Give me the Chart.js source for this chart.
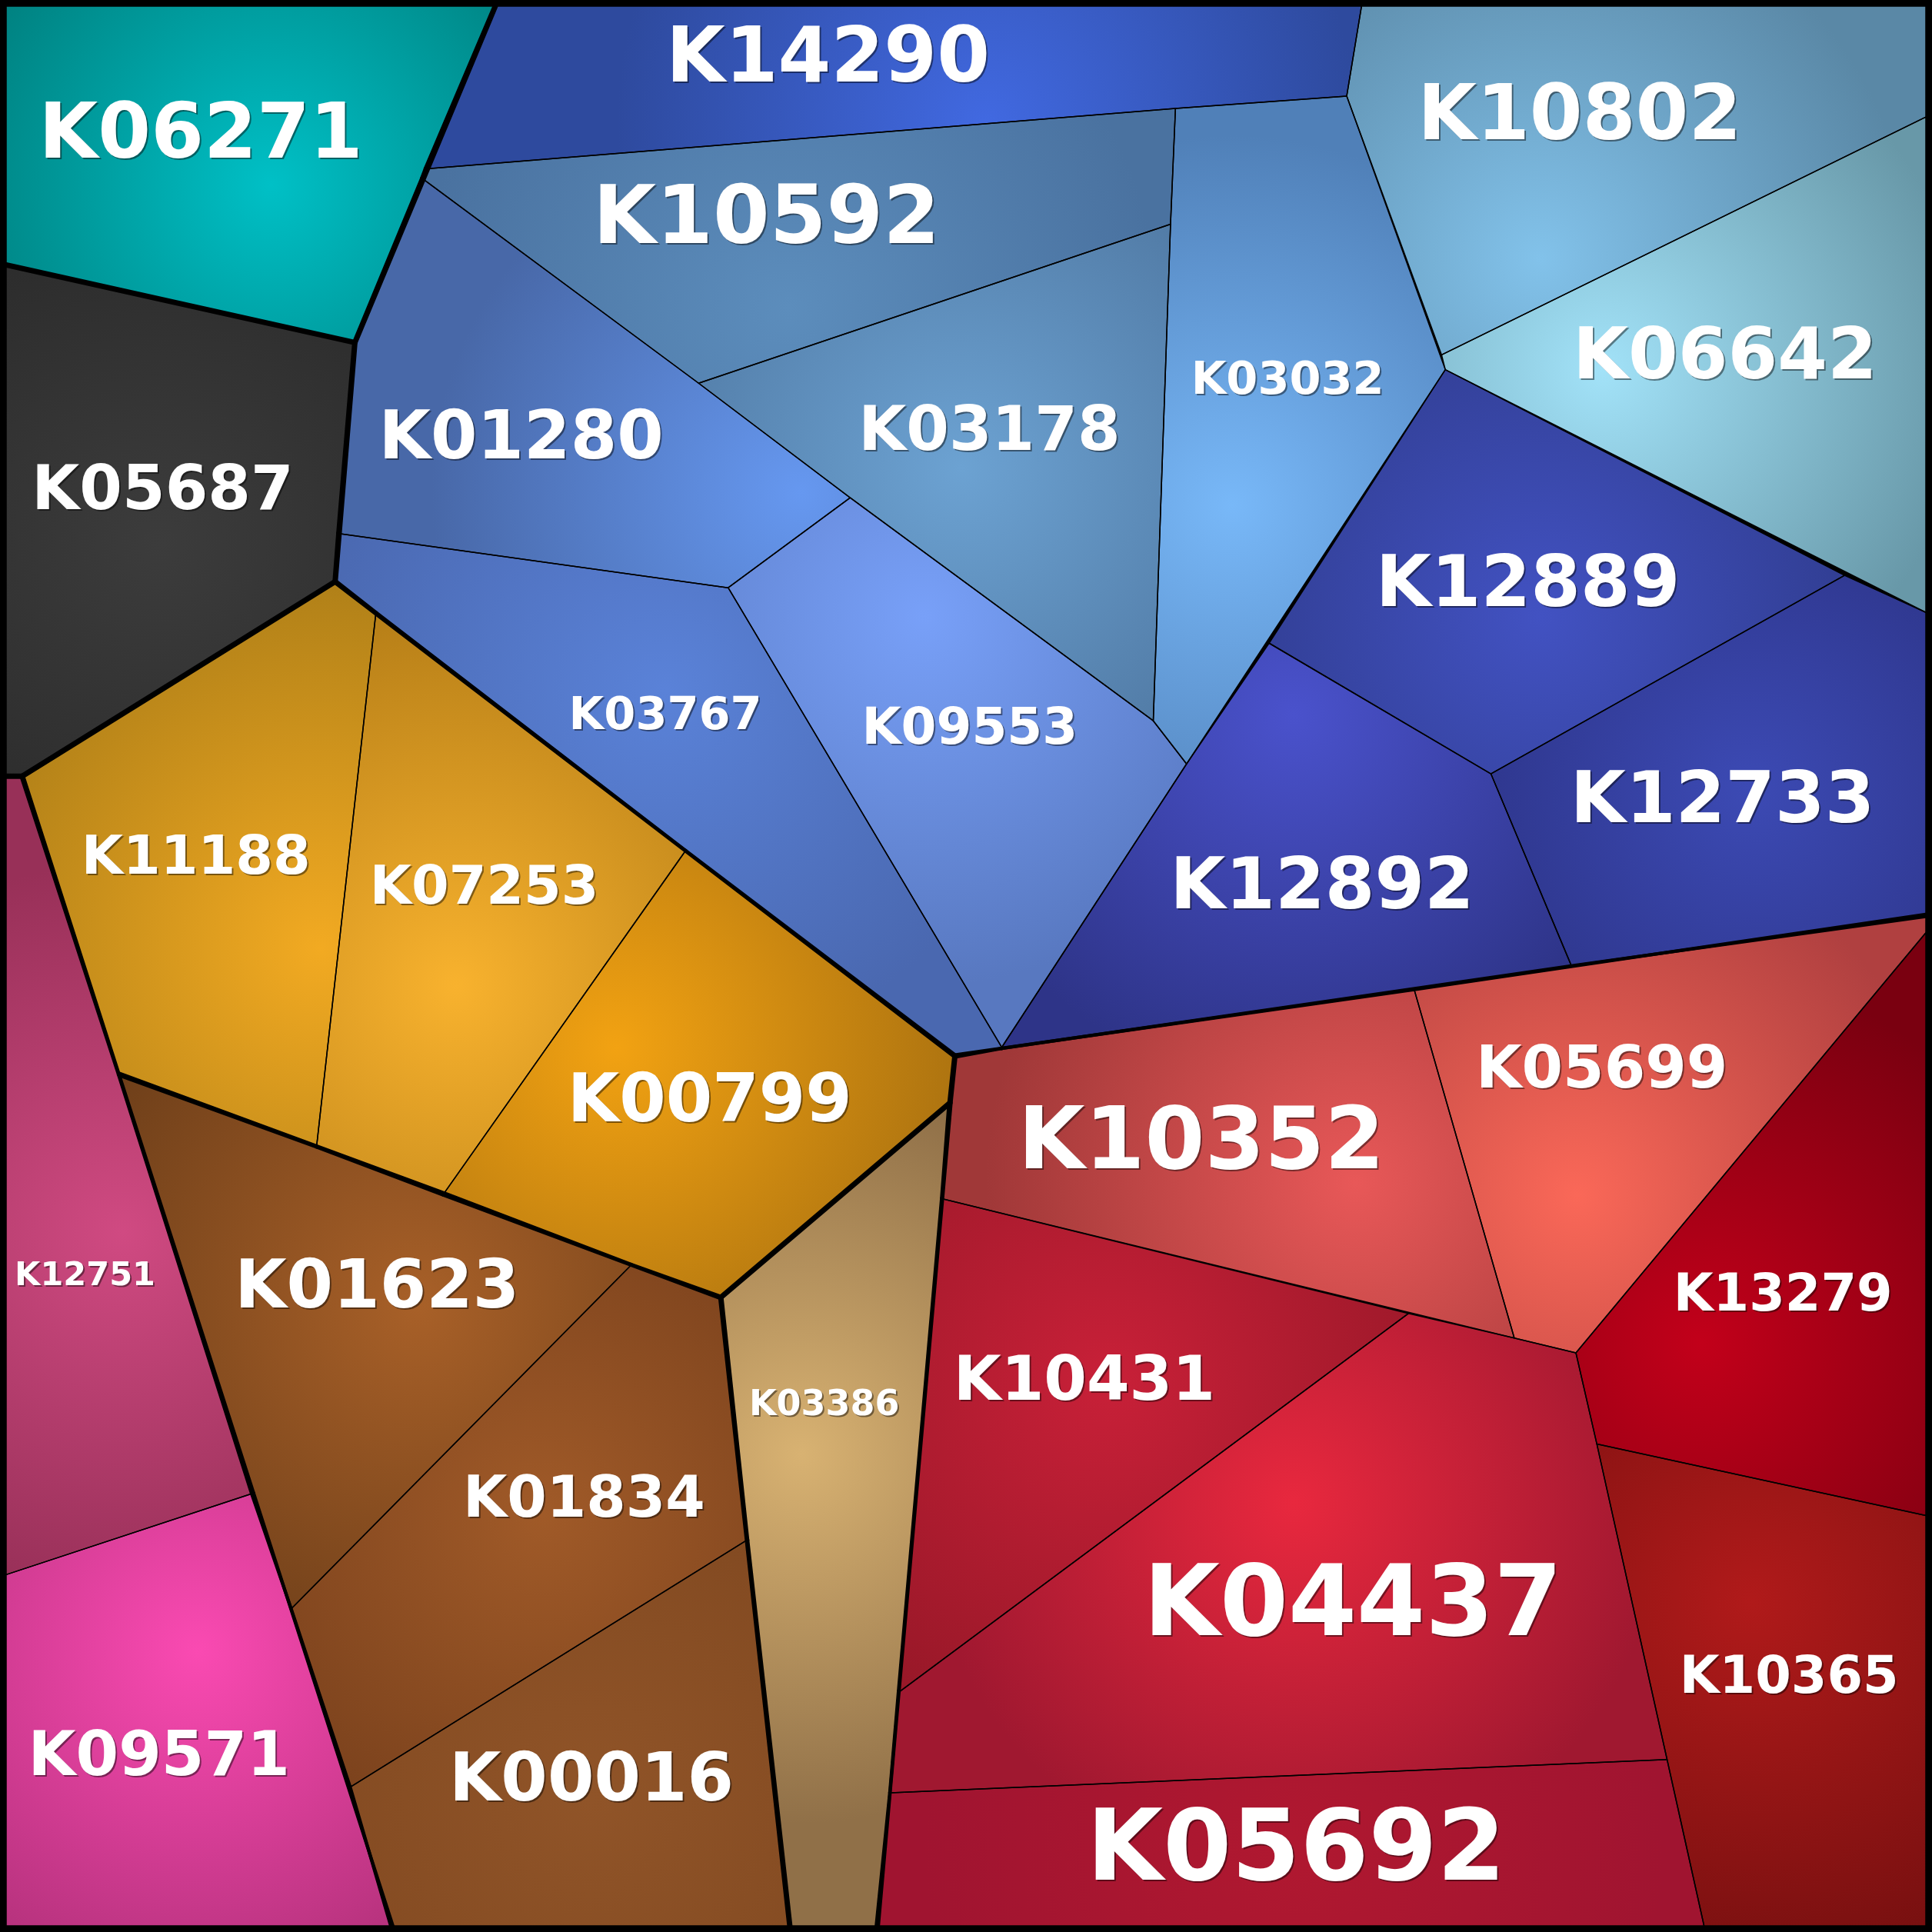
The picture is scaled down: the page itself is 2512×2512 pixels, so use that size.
<!DOCTYPE html>
<html lang="en">
<head>
<meta charset="UTF-8">
<title>Voronoi treemap</title>
<style>
  html, body { margin: 0; padding: 0; background: #000; }
  #wrap { width: 2512px; height: 2512px; }
</style>
</head>
<body>
<div id="wrap"><canvas id="chart" width="2512" height="2512"></canvas></div>
<script src="https://cdn.jsdelivr.net/npm/chart.js"></script>
<script>
// cell names and group membership
const cellNames = ['K06271','K05687','K14290','K10592','K01280','K03178','K03032','K10802','K06642','K12889',
  'K12733','K12892','K09553','K03767','K11188','K07253','K00799','K01623','K01834','K00016',
  'K03386','K12751','K09571','K10352','K05699','K13279','K10365','K10431','K04437','K05692'];
const cellGroups = ['teal','black','blue','blue','blue','blue','blue','blue','blue','blue',
  'blue','blue','blue','blue','gold','gold','gold','brown','brown','brown',
  'tan','pink','pink','red','red','red','red','red','red','red'];

// polygon vertices per cell, in a 0..1568 layout space
const cellPolygons = [
  [[5,5],[402,5],[288,278],[5,215]],
  [[5,215],[288,278],[272,472],[18,630],[5,630]],
  [[402,5],[1105,5],[1093,78],[954,88],[346,137]],
  [[346,137],[954,88],[950,182],[567,311],[343,145]],
  [[343,145],[567,311],[690,404],[591,477],[275,433],[288,278]],
  [[567,311],[950,182],[936,585],[690,404]],
  [[954,88],[1093,78],[1173,300],[963,620],[936,585],[950,182]],
  [[1105,5],[1563,5],[1563,95],[1170,288],[1093,78]],
  [[1170,288],[1563,95],[1563,497],[1173,300]],
  [[1173,300],[1497,467],[1210,628],[1030,522]],
  [[1497,467],[1563,497],[1563,743],[1275,783],[1210,628]],
  [[1030,522],[1210,628],[1275,783],[813,850],[963,620]],
  [[690,404],[936,585],[963,620],[813,850],[591,477]],
  [[275,433],[591,477],[813,850],[775,857],[272,472]],
  [[272,472],[305,498],[257,930],[97,872],[18,630]],
  [[305,498],[556,691],[360,969],[257,930]],
  [[556,691],[775,857],[771,895],[585,1053],[360,969]],
  [[97,872],[360,969],[512,1027],[237,1305],[205,1212]],
  [[512,1027],[585,1053],[606,1250],[285,1450],[237,1305]],
  [[285,1450],[606,1250],[641,1563],[318,1563]],
  [[585,1053],[771,895],[712,1563],[641,1563]],
  [[5,630],[18,630],[205,1212],[5,1278]],
  [[5,1278],[205,1212],[318,1563],[5,1563]],
  [[775,857],[1148,804],[1229,1086],[765,973],[771,895]],
  [[1148,804],[1563,743],[1563,757],[1279,1098],[1229,1086]],
  [[1563,757],[1563,1230],[1296,1172],[1279,1098]],
  [[1296,1172],[1563,1230],[1563,1563],[1383,1563]],
  [[765,973],[1143,1066],[730,1373]],
  [[1143,1066],[1229,1086],[1279,1098],[1296,1172],[1353,1428],[723,1455],[730,1373]],
  [[723,1455],[1353,1428],[1383,1563],[712,1563]]
];

// label anchor and relative size per cell
const labelPoints = [[163,112],[132,400],[672,50],[622,180],[423,358],[803,352],[1045,310],[1282,97],[1400,292],[1240,477],
  [1398,652],[1073,722],[787,593],[540,582],[159,698],[393,722],[576,896],[306,1047],[474,1219],[480,1447],
  [669,1141],[69,1036],[129,1428],[975,930],[1300,870],[1447,1053],[1452,1363],[880,1123],[1098,1306],[1052,1505]];
const labelSizes = [62,50,62,66,54,50,37,62,58,58, 58,58,41,37,44,44,54,54,46,54, 29,27,50,70,48,42,42,50,80,80];

// gradient highlight centres and colours
const glowPoints = [[220,150],[130,440],[800,100],[640,250],[650,400],[780,380],[1000,410],[1250,210],[1300,300],[1250,500],
  [1420,640],[1050,580],[750,500],[540,560],[260,770],[370,800],[500,850],[340,1060],[440,1230],[480,1460],
  [650,1180],[100,1000],[160,1340],[1100,960],[1280,970],[1380,1090],[1420,1300],[900,1120],[1050,1220],[1050,1500]];
const innerColors = ['#00c0c6','#3c3c3c','#4169e1','#5c8dbc','#6698f0','#6ca2d2','#78b8f8','#82c2ea','#a2e2f8','#4252c2',
  '#3c4ab4','#4a52cc','#78a0f8','#5a82d8','#f2aa22','#f8b22e','#f2a212','#a86028','#a05a28','#905428',
  '#d8b272','#d04a82','#fa4ab2','#e85858','#fa6858','#c2001a','#b01a1a','#c82038','#e8283e','#b01830'];
const outerColors = ['#007876','#2a2a2a','#2e4a9e','#4a72a0','#4868a8','#4e76a0','#5080b8','#5a88a6','#6898a8','#2e3a8a',
  '#2a3080','#2e3488','#5878c0','#4a68b0','#b08018','#b88018','#a87010','#70401a','#78401c','#804820',
  '#907048','#983058','#b03078','#a03838','#b04040','#7a0010','#781010','#981828','#a01830','#a01430'];

const SPACE = 1568;

const cellPainter = {
  id: 'cellPainter',
  beforeDatasetsDraw(chart) {
    const ctx = chart.ctx;
    const xs = chart.scales.x, ys = chart.scales.y;
    const k = chart.width / SPACE;
    const paths = chart.data.datasets.map((ds, i) => {
      const pts = chart.getDatasetMeta(i).data;
      const p = new Path2D();
      pts.forEach((pt, j) => j ? p.lineTo(pt.x, pt.y) : p.moveTo(pt.x, pt.y));
      p.closePath();
      return p;
    });
    ctx.save();
    ctx.lineJoin = 'round';
    // fills
    paths.forEach((p, i) => {
      const cx = xs.getPixelForValue(glowPoints[i][0]);
      const cy = ys.getPixelForValue(glowPoints[i][1]);
      const g = ctx.createRadialGradient(cx, cy, 0, cx, cy, 300 * k);
      g.addColorStop(0, innerColors[i]);
      g.addColorStop(1, outerColors[i]);
      ctx.fillStyle = g;
      ctx.fill(p);
    });
    // thin cell edges
    ctx.strokeStyle = '#000';
    ctx.lineWidth = 1.5;
    paths.forEach(p => ctx.stroke(p));
    // thick group borders
    const groupsUsed = [...new Set(cellGroups)];
    groupsUsed.forEach(gName => {
      ctx.save();
      const clip = new Path2D();
      paths.forEach((p, i) => { if (cellGroups[i] === gName) clip.addPath(p); });
      ctx.clip(clip);
      ctx.lineWidth = 7;
      paths.forEach((p, i) => { if (cellGroups[i] !== gName) ctx.stroke(p); });
      ctx.restore();
    });
    // outer frame
    ctx.lineWidth = 14;
    ctx.strokeRect(0, 0, chart.width, chart.height);
    // labels
    ctx.textAlign = 'center';
    ctx.textBaseline = 'middle';
    cellNames.forEach((name, i) => {
      const x = xs.getPixelForValue(labelPoints[i][0]);
      const y = ys.getPixelForValue(labelPoints[i][1]);
      ctx.font = 'bold ' + Math.round(labelSizes[i] * k) + 'px "DejaVu Sans"';
      ctx.fillStyle = 'rgba(0,0,0,0.45)';
      ctx.fillText(name, x + 2, y + 2);
      ctx.fillStyle = '#ffffff';
      ctx.fillText(name, x, y);
    });
    ctx.restore();
  }
};

new Chart(document.getElementById('chart'), {
  type: 'scatter',
  data: {
    datasets: cellPolygons.map((poly, i) => ({
      label: cellNames[i],
      data: poly.map(v => ({ x: v[0], y: v[1] })),
      showLine: false,
      pointRadius: 0,
      pointHoverRadius: 0
    }))
  },
  options: {
    responsive: false,
    animation: false,
    events: [],
    layout: { padding: 0 },
    scales: {
      x: { type: 'linear', min: 0, max: SPACE, display: false },
      y: { type: 'linear', min: 0, max: SPACE, reverse: true, display: false }
    },
    plugins: { legend: { display: false }, tooltip: { enabled: false } }
  },
  plugins: [cellPainter]
});
</script>
</body>
</html>
